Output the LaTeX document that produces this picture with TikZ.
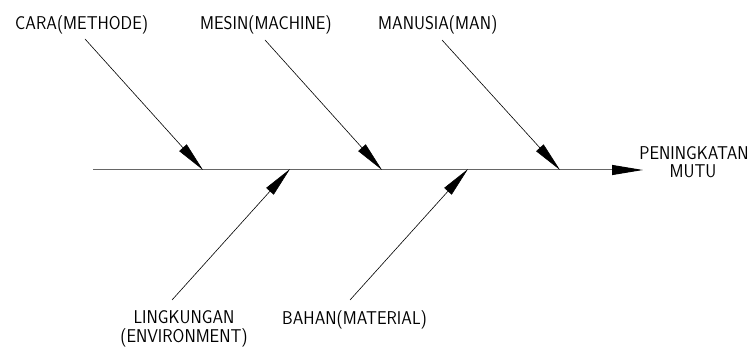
\documentclass[tikz,border=0pt]{standalone}
\usepackage{fontspec}
\usepackage{graphicx}
\usetikzlibrary{arrows.meta}
\newcommand{\cadtxt}[1]{\scalebox{0.92}[1]{#1}}
\begin{document}
\begin{tikzpicture}[x=1pt,y=-1pt,
  lbl/.style={inner sep=0pt,font=\sffamily\fontsize{18.5}{19}\selectfont},
  spine/.style={draw=black!60,line width=1pt,-{Triangle[length=31pt,width=10pt,color=black]}},
  bone/.style={draw=black,line width=0.6pt,-{Triangle[length=30pt,width=10pt]}}]
\useasboundingbox (0,0) rectangle (752,347);
% spine
\coordinate (s0) at (93,170);
\coordinate (s1) at (643,170);
\draw[spine] (s0) -- (s1);
% tips on spine
\coordinate (tA) at (203,170);
\coordinate (tB) at (382,170);
\coordinate (tC) at (560,170);
\coordinate (tD) at (290,169);
\coordinate (tE) at (468,169);
% tails
\coordinate (cA) at (85,39);
\coordinate (cB) at (265,40);
\coordinate (cC) at (442,40);
\coordinate (cD) at (172,300);
\coordinate (cE) at (350,300);
\draw[bone] (cA) -- (tA);
\draw[bone] (cB) -- (tB);
\draw[bone] (cC) -- (tC);
\draw[bone] (cD) -- (tD);
\draw[bone] (cE) -- (tE);
% labels
\node[lbl,anchor=base west] (lA) at (15,30) {\cadtxt{CARA(METHODE)}};
\node[lbl,anchor=base west] (lB) at (200,30) {\cadtxt{MESIN(MACHINE)}};
\node[lbl,anchor=base west] (lC) at (378,30) {\cadtxt{MANUSIA(MAN)}};
\node[lbl,anchor=base] (lD1) at (184,323.5) {\cadtxt{LINGKUNGAN}};
\node[lbl,anchor=base] (lD2) at (184,342) {\cadtxt{(ENVIRONMENT)}};
\node[lbl,anchor=base west] (lE) at (282,324) {\cadtxt{BAHAN(MATERIAL)}};
\node[lbl,anchor=base] (lF1) at (694,160) {\cadtxt{PENINGKATAN}};
\node[lbl,anchor=base] (lF2) at (693,178) {\cadtxt{MUTU}};
\end{tikzpicture}
\end{document}
